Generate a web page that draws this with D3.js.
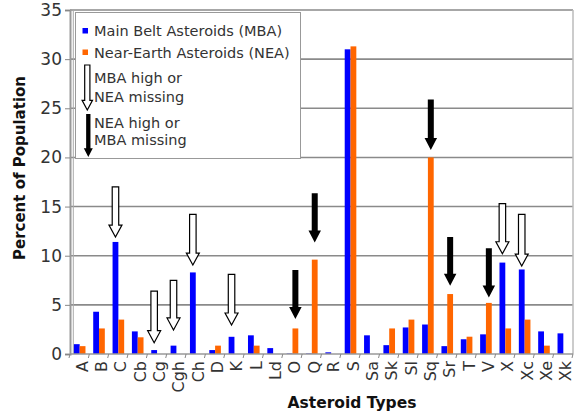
<!DOCTYPE html>
<html><head><meta charset="utf-8">
<script src="https://cdn.jsdelivr.net/npm/d3@7"></script>
<style>body{margin:0;background:#fff}svg{display:block}</style>
</head><body>
<svg id="c" width="578" height="412"></svg>
<script>
const categories = ["A","B","C","Cb","Cg","Cgh","Ch","D","K","L","Ld","O","Q","R","S","Sa","Sk","Sl","Sq","Sr","T","V","X","Xc","Xe","Xk"];
const mbaValues = [1.0,4.3,11.4,2.3,0.4,0.85,8.3,0.4,1.75,1.9,0.6,0.05,0.05,0.17,31.0,1.9,0.9,2.7,3.0,0.8,1.5,2.0,9.3,8.6,2.3,2.1];
const neaValues = [0.8,2.6,3.5,1.7,0,0,0,0.85,0,0.85,0,2.6,9.6,0,31.3,0,2.6,3.5,20.0,6.1,1.76,5.2,2.6,3.5,0.85,0];
const yTicks = [0,5,10,15,20,25,30,35];
const seriesNames = ["Main Belt Asteroids (MBA)","Near-Earth Asteroids (NEA)"];
const seriesColors = ["#0000ff","#ff6600"];
// annotation arrows: "mba" = hollow (MBA high or NEA missing), "nea" = solid (NEA high or MBA missing)
const arrowCats  = ["C","Cg","Cgh","Ch","K","O","Q","Sq","Sr","V","X","Xc"];
const arrowKinds = ["mba","mba","mba","mba","mba","nea","nea","nea","nea","nea","mba","mba"];
const arrowTops  = [17.0,6.4,7.5,14.2,8.1,8.55,16.35,25.9,11.9,10.75,15.3,14.2];
const arrowTips  = [11.9,1.15,2.45,9.05,2.95,3.55,11.35,20.75,6.95,5.75,10.2,8.95];

const svg = d3.select("#c");
const L = 70, R = 573, T = 10, B = 354;
const y = d3.scaleLinear().domain([0,35]).range([B,T]);
const x0 = d3.scaleBand().domain(categories).range([L,R]).paddingInner(0.4).paddingOuter(0.2);
const x1 = d3.scaleBand().domain(["mba","nea"]).range([0,x0.bandwidth()]);
const step = x0.step();

// gridlines
svg.append("g").selectAll("line").data(yTicks.filter(d=>d>0)).join("line")
  .attr("x1",L).attr("x2",R).attr("y1",d=>y(d)).attr("y2",d=>y(d))
  .attr("stroke","#8a8a8a").attr("stroke-width",1.6);
// right border
svg.append("line").attr("x1",R).attr("x2",R).attr("y1",T).attr("y2",B).attr("stroke","#bbb").attr("stroke-width",1.5);
// inner left frame
svg.append("line").attr("x1",73.3).attr("x2",73.3).attr("y1",T).attr("y2",B).attr("stroke","#aaa").attr("stroke-width",1);

// legend box
svg.append("rect").attr("x",75.5).attr("y",12.5).attr("width",225).attr("height",146)
  .attr("fill","#fff").attr("stroke","#999").attr("stroke-width",1);

// bars
const gb = svg.append("g");
categories.forEach((c,i)=>{
  [["mba",mbaValues[i],0],["nea",neaValues[i],1]].forEach(([k,v,j])=>{
    if(v<=0) return;
    gb.append("rect").attr("x",x0(c)+x1(k)).attr("width",x1.bandwidth())
      .attr("y",y(v)).attr("height",y(0)-y(v)).attr("fill",seriesColors[j]);
  });
});

// axes
const ya = svg.append("g").attr("transform",`translate(${L},0)`)
  .call(d3.axisLeft(y).tickValues(yTicks).tickSize(5).tickPadding(3));
ya.select(".domain").attr("stroke","#999").attr("stroke-width",2);
ya.selectAll(".tick line").attr("stroke","#888");
ya.selectAll("text").attr("font-family","DejaVu Sans, Verdana, sans-serif").attr("font-size",17).attr("fill","#333");

svg.append("line").attr("x1",L).attr("x2",R).attr("y1",B).attr("y2",B).attr("stroke","#999").attr("stroke-width",1.5);
// x ticks at band boundaries
svg.append("g").selectAll("line").data(d3.range(categories.length+1)).join("line")
  .attr("x1",d=>L+d*step).attr("x2",d=>L+d*step-1).attr("y1",B).attr("y2",B+4)
  .attr("stroke","#888");
// x labels
svg.append("g").selectAll("text").data(categories).join("text")
  .attr("transform",d=>`translate(${x0(d)+x0.bandwidth()/2+8},361) rotate(-90)`)
  .attr("text-anchor","end").attr("font-family","DejaVu Sans, Verdana, sans-serif")
  .attr("font-size",16).attr("fill","#333").text(d=>d);

// axis titles
svg.append("text").attr("transform","translate(25,168) rotate(-90)").attr("text-anchor","middle")
  .attr("font-family","DejaVu Sans, Verdana, sans-serif").attr("font-weight","bold").attr("font-size",15)
  .attr("fill","#111").text("Percent of Population");
svg.append("text").attr("x",352).attr("y",408).attr("text-anchor","middle")
  .attr("font-family","DejaVu Sans, Verdana, sans-serif").attr("font-weight","bold").attr("font-size",15.5)
  .attr("fill","#111").text("Asteroid Types");

// arrow drawing
function arrowPath(cx, top, tip, shaftW, headW, headH){
  const s=shaftW/2, h=headW/2, hb=tip-headH;
  return `M${cx-s},${top}L${cx+s},${top}L${cx+s},${hb}L${cx+h},${hb}L${cx},${tip}L${cx-h},${hb}L${cx-s},${hb}Z`;
}
function drawArrow(g, kind, cx, top, tip, scale){
  if(kind==="mba"){
    g.append("path").attr("d",arrowPath(cx,top,tip,6.5*scale,13*scale,12*scale))
      .attr("fill","#fff").attr("stroke","#000").attr("stroke-width",1.2);
  } else {
    g.append("path").attr("d",arrowPath(cx,top,tip,6*scale,12.5*scale,12*scale))
      .attr("fill","#000");
  }
}
const ga = svg.append("g");
arrowCats.forEach((c,i)=>{
  const k = arrowKinds[i];
  const cx = x0(c)+x1(k)+x1.bandwidth()/2;
  drawArrow(ga,k,cx,y(arrowTops[i]),y(arrowTips[i]),1);
});

// legend contents
const lg = svg.append("g").attr("font-family","DejaVu Sans, Verdana, sans-serif").attr("font-size",14.5).attr("fill","#333");
seriesNames.forEach((n,i)=>{
  lg.append("rect").attr("x",82.5).attr("y",28+i*21.5).attr("width",5.5).attr("height",5.5).attr("fill",seriesColors[i]);
  lg.append("text").attr("x",94).attr("y",36+i*21.7).text(n);
});
drawArrow(lg,"mba",87.3,65,110,0.8);
drawArrow(lg,"nea",88.3,114,157,0.72);
lg.append("text").attr("x",94).attr("y",83.3).text("MBA high or");
lg.append("text").attr("x",94).attr("y",101.5).text("NEA missing");
lg.append("text").attr("x",94).attr("y",127.5).text("NEA high or");
lg.append("text").attr("x",94).attr("y",145).text("MBA missing");
</script>
</body></html>
